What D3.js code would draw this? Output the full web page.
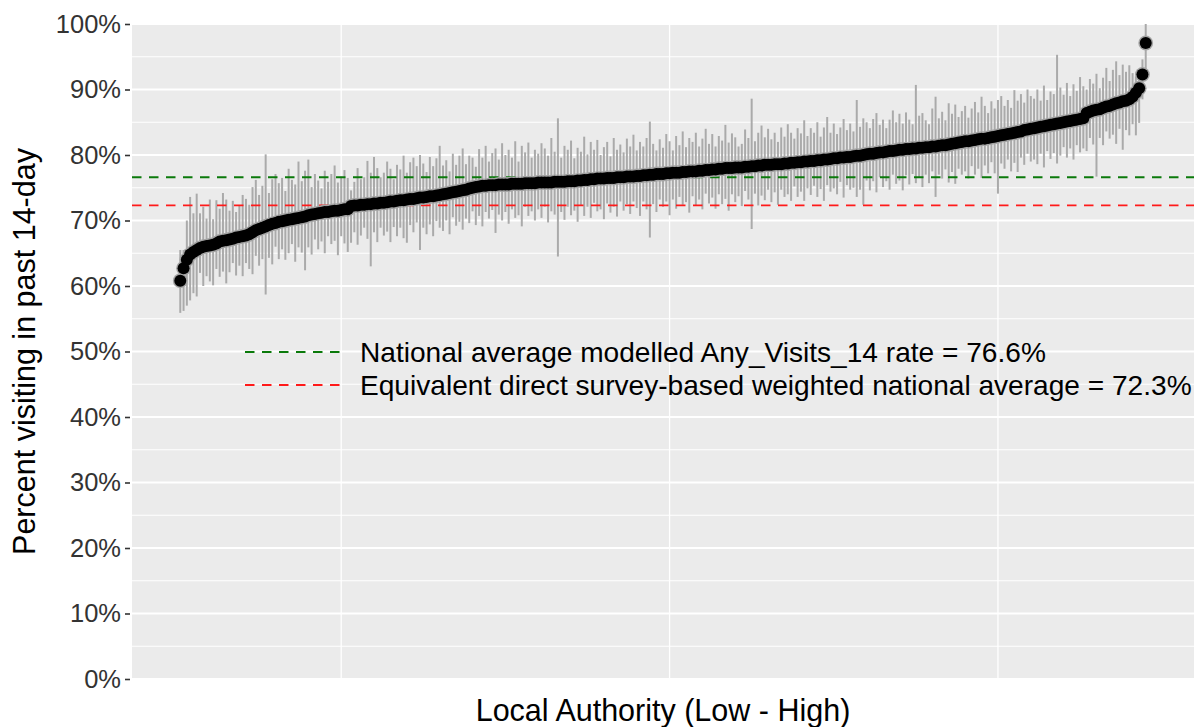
<!DOCTYPE html>
<html>
<head>
<meta charset="utf-8">
<script src="https://cdn.jsdelivr.net/npm/d3@7"></script>
<style>
  html, body { margin: 0; padding: 0; background: #ffffff; }
  svg { display: block; font-family: "Liberation Sans", Arial, sans-serif; }
</style>
</head>
<body>
<svg id="chart" width="1200" height="727"></svg>
<script>
// Local authorities ranked from lowest to highest modelled estimate
const firstRank = 51;

// Modelled percent visiting in the past 14 days, one value per local authority (sorted)
const estimate = [
  60.8, 62.7, 64.0, 64.8, 65.2, 65.5, 65.8, 66.0, 66.1, 66.2,
  66.3, 66.5, 66.8, 66.9, 67.0, 67.1, 67.2, 67.4, 67.5, 67.6,
  67.7, 67.9, 68.2, 68.5, 68.7, 68.9, 69.1, 69.3, 69.5, 69.6,
  69.8, 69.9, 70.0, 70.1, 70.2, 70.3, 70.4, 70.5, 70.6, 70.8,
  70.9, 71.0, 71.1, 71.2, 71.3, 71.3, 71.4, 71.5, 71.5, 71.6,
  71.7, 71.7, 72.2, 72.3, 72.3, 72.4, 72.4, 72.5, 72.5, 72.6,
  72.6, 72.7, 72.7, 72.8, 72.9, 72.9, 73.0, 73.1, 73.1, 73.2,
  73.3, 73.3, 73.4, 73.5, 73.5, 73.6, 73.7, 73.7, 73.8, 73.9,
  74.0, 74.1, 74.2, 74.3, 74.4, 74.5, 74.6, 74.7, 74.9, 75.0,
  75.1, 75.2, 75.3, 75.3, 75.4, 75.4, 75.4, 75.5, 75.5, 75.5,
  75.5, 75.6, 75.6, 75.6, 75.6, 75.7, 75.7, 75.7, 75.7, 75.8,
  75.8, 75.8, 75.8, 75.8, 75.9, 75.9, 75.9, 75.9, 76.0, 76.0,
  76.0, 76.1, 76.1, 76.2, 76.2, 76.3, 76.3, 76.4, 76.4, 76.4,
  76.5, 76.5, 76.5, 76.6, 76.6, 76.6, 76.7, 76.7, 76.7, 76.8,
  76.8, 76.9, 76.9, 77.0, 77.0, 77.1, 77.1, 77.1, 77.2, 77.2,
  77.3, 77.3, 77.3, 77.4, 77.4, 77.5, 77.5, 77.5, 77.6, 77.6,
  77.7, 77.7, 77.8, 77.8, 77.9, 77.9, 78.0, 78.0, 78.0, 78.1,
  78.1, 78.1, 78.2, 78.2, 78.3, 78.3, 78.4, 78.4, 78.5, 78.5,
  78.5, 78.6, 78.6, 78.6, 78.7, 78.7, 78.8, 78.8, 78.9, 78.9,
  79.0, 79.0, 79.1, 79.1, 79.2, 79.2, 79.3, 79.3, 79.4, 79.5,
  79.5, 79.6, 79.6, 79.7, 79.7, 79.8, 79.9, 79.9, 80.0, 80.1,
  80.2, 80.2, 80.3, 80.4, 80.4, 80.5, 80.6, 80.6, 80.7, 80.8,
  80.8, 80.9, 80.9, 81.0, 81.0, 81.1, 81.1, 81.2, 81.2, 81.3,
  81.3, 81.4, 81.5, 81.5, 81.6, 81.7, 81.8, 81.9, 82.0, 82.1,
  82.1, 82.2, 82.3, 82.4, 82.5, 82.5, 82.6, 82.7, 82.8, 82.9,
  83.0, 83.1, 83.2, 83.3, 83.4, 83.5, 83.6, 83.8, 83.9, 84.0,
  84.1, 84.2, 84.3, 84.4, 84.5, 84.6, 84.7, 84.8, 84.9, 85.0,
  85.1, 85.2, 85.3, 85.4, 85.5, 85.6, 86.4, 86.6, 86.8, 86.9,
  87.0, 87.2, 87.4, 87.5, 87.7, 87.9, 88.0, 88.2, 88.3, 88.5,
  88.9, 89.5, 90.2, 92.3, 97.1
];

// Distance from the estimate to the upper end of its interval (percentage points)
const marginUp = [
  4.7, 2.8, 6.0, 8.8, 5.9, 8.6, 5.3, 6.1, 4.2, 7.0,
  3.9, 6.6, 5.0, 7.3, 6.2, 4.4, 5.8, 3.9, 4.8, 6.3,
  5.6, 4.5, 6.9, 7.7, 5.2, 6.4, 11.0, 4.9, 6.8, 7.5,
  5.9, 6.6, 4.5, 7.8, 6.0, 5.2, 8.6, 5.5, 7.0, 8.5,
  4.2, 6.1, 5.0, 3.7, 6.3, 4.6, 5.7, 6.9, 4.3, 5.1,
  6.0, 4.8, 2.4, 3.6, 5.7, 3.9, 4.2, 6.6, 4.8, 7.1,
  5.4, 3.9, 4.6, 6.2, 5.0, 3.4, 5.5, 4.7, 6.8, 4.1,
  5.6, 6.3, 4.9, 6.5, 5.2, 3.8, 6.0, 4.6, 5.7, 7.5,
  4.4, 5.1, 3.3, 5.9, 4.1, 5.4, 6.4, 3.9, 5.0, 4.6,
  3.1, 5.7, 4.3, 6.1, 3.6, 4.9, 5.6, 3.8, 6.3, 4.5,
  5.3, 4.0, 6.5, 3.4, 5.8, 4.7, 6.2, 3.9, 5.1, 4.4,
  6.0, 5.2, 4.1, 6.8, 4.6, 9.7, 3.7, 5.5, 4.8, 6.2,
  3.5, 5.0, 4.4, 6.6, 3.9, 5.7, 4.5, 5.9, 3.6, 4.8,
  5.5, 3.3, 6.1, 4.2, 5.0, 3.8, 5.8, 4.6, 6.4, 3.9,
  5.2, 4.4, 5.7, 8.1, 4.7, 3.6, 5.3, 4.0, 6.0, 4.9,
  3.4, 5.6, 4.2, 6.2, 3.8, 5.1, 4.5, 5.9, 3.7, 4.9,
  6.3, 4.0, 5.4, 3.5, 5.0, 4.3, 6.6, 3.9, 5.3, 4.6,
  3.2, 3.6, 5.7, 4.4, 10.3, 3.8, 5.0, 6.1, 4.2, 5.5,
  3.9, 4.8, 3.4, 5.6, 4.1, 6.0, 4.6, 3.7, 5.2, 4.4,
  6.3, 3.9, 5.0, 4.3, 5.8, 3.6, 4.9, 6.5, 4.0, 5.3,
  3.7, 4.6, 5.9, 4.1, 5.1, 3.8, 8.5, 4.4, 5.6, 4.9,
  3.9, 5.3, 6.1, 4.2, 5.0, 3.6, 4.8, 6.2, 4.3, 5.5,
  4.0, 5.6, 4.5, 3.7, 9.7, 4.9, 5.3, 4.1, 3.5, 5.8,
  7.6, 4.2, 5.1, 3.8, 6.3, 4.6, 5.9, 3.9, 4.7, 5.4,
  3.6, 4.9, 5.8, 4.1, 6.4, 5.0, 3.8, 5.5, 4.3, 5.5,
  6.0, 4.4, 5.2, 3.9, 6.5, 4.8, 5.7, 4.2, 6.1, 5.0,
  4.5, 5.8, 4.0, 6.2, 3.9, 5.1, 4.6, 10.5, 5.4, 4.2,
  5.9, 3.8, 5.5, 4.4, 6.4, 4.9, 3.6, 5.0, 4.1, 5.5,
  3.2, 4.6, 5.9, 3.8, 5.3, 6.4, 4.2, 5.6, 4.4, 5.2,
  3.6, 2.5, 1.8, 2.3, 4.0
];

// Distance from the estimate to the lower end of its interval (percentage points)
const marginDown = [
  4.9, 6.5, 7.0, 7.0, 6.3, 7.1, 3.8, 6.0, 4.6, 5.5,
  6.2, 3.9, 5.4, 4.7, 6.6, 5.0, 3.7, 5.8, 4.4, 6.1,
  4.2, 5.3, 6.4, 3.9, 5.6, 4.8, 10.4, 5.0, 6.2, 3.6,
  5.7, 4.3, 6.0, 5.1, 3.8, 6.6, 4.5, 5.4, 8.2, 4.9,
  6.1, 3.9, 5.5, 4.4, 6.3, 3.7, 5.0, 4.6, 6.8, 4.0,
  5.2, 6.5, 5.6, 4.1, 6.0, 4.7, 3.5, 5.3, 9.5, 4.4,
  5.9, 3.8, 5.0, 4.5, 6.2, 3.9, 5.4, 4.2, 5.8, 6.6,
  4.0, 5.1, 3.7, 8.0, 4.6, 5.7, 4.3, 6.1, 3.9, 5.0,
  5.6, 4.1, 6.3, 3.8, 5.2, 4.7, 6.0, 4.4, 5.3, 3.6,
  5.8, 4.5, 6.2, 4.0, 5.1, 3.8, 7.3, 4.6, 5.5, 4.2,
  6.0, 3.9, 5.2, 4.8, 6.5, 3.6, 5.0, 4.3, 5.7, 4.1,
  5.4, 3.7, 6.1, 4.4, 5.0, 11.4, 4.6, 5.8, 3.9, 5.2,
  4.5, 6.3, 3.8, 5.5, 4.1, 5.9, 3.6, 5.0, 4.7, 6.2,
  3.9, 5.3, 4.4, 6.0, 3.7, 5.1, 4.2, 5.7, 3.8, 4.9,
  6.1, 4.0, 5.2, 9.6, 4.5, 5.8, 3.9, 5.0, 4.3, 6.4,
  4.1, 5.5, 3.7, 5.0, 4.6, 6.3, 3.8, 5.2, 4.4, 5.9,
  3.6, 5.1, 4.3, 6.0, 3.9, 5.4, 4.7, 6.5, 4.0, 5.3,
  4.4, 5.9, 3.7, 5.0, 9.6, 4.2, 6.1, 4.6, 5.4, 3.8,
  5.7, 4.3, 6.2, 3.9, 5.1, 4.7, 5.8, 3.6, 5.3, 4.5,
  6.0, 4.1, 5.2, 3.8, 5.6, 4.4, 6.3, 3.9, 5.0, 4.6,
  5.5, 3.7, 6.1, 4.3, 5.0, 4.8, 6.3, 5.2, 7.6, 4.0,
  5.6, 4.2, 6.0, 3.8, 5.3, 4.5, 5.9, 3.6, 5.1, 4.7,
  6.2, 4.0, 5.4, 3.9, 5.3, 4.6, 6.0, 4.2, 5.5, 3.8,
  7.7, 4.4, 5.1, 3.7, 5.8, 4.3, 6.2, 4.0, 5.0, 4.6,
  5.7, 3.9, 5.3, 4.5, 6.0, 4.1, 5.4, 3.8, 5.6, 8.8,
  4.3, 5.2, 3.9, 5.8, 4.6, 6.1, 4.0, 5.3, 3.7, 5.0,
  4.8, 5.6, 4.1, 6.3, 3.9, 5.2, 4.4, 6.1, 5.0, 3.8,
  5.5, 4.2, 6.0, 3.9, 5.1, 4.6, 5.8, 4.0, 5.2, 10.2,
  4.4, 5.7, 3.8, 5.0, 4.6, 6.2, 4.0, 7.4, 4.5, 5.5,
  4.2, 6.5, 5.3, 3.8, 4.1
];

// Reference lines
const refLabels = [
  "National average modelled Any_Visits_14 rate = 76.6%",
  "Equivalent direct survey-based weighted national average = 72.3%"
];
const refValues = [76.6, 72.3];
const refColors = ["#0b7a0b", "#ff1a1a"];

const yTicks = [0, 10, 20, 30, 40, 50, 60, 70, 80, 90, 100];
const yMinor = [5, 15, 25, 35, 45, 55, 65, 75, 85, 95];
const xBreaks = [100, 200, 300];

// Build records
const rows = estimate.map((v, i) => ({
  rank: firstRank + i,
  est: v,
  lo: v - marginDown[i],
  hi: v + marginUp[i]
}));

const svg = d3.select("#chart");
const panel = { left: 132, right: 1194, top: 24, bottom: 679 };

const rankExtent = d3.extent(rows, d => d.rank);
const pad = (rankExtent[1] - rankExtent[0]) * 0.05;
const x = d3.scaleLinear()
  .domain([rankExtent[0] - pad, rankExtent[1] + pad])
  .range([panel.left, panel.right]);
const y = d3.scaleLinear().domain([0, 100]).range([panel.bottom, panel.top]);

// Panel background
svg.append("rect")
  .attr("x", panel.left).attr("y", panel.top)
  .attr("width", panel.right - panel.left).attr("height", panel.bottom - panel.top)
  .attr("fill", "#ebebeb");

svg.append("defs").append("clipPath").attr("id", "panel-clip")
  .append("rect")
  .attr("x", panel.left).attr("y", panel.top)
  .attr("width", panel.right - panel.left).attr("height", panel.bottom - panel.top);

const grid = svg.append("g");
grid.selectAll("line.minor").data(yMinor).join("line")
  .attr("x1", panel.left).attr("x2", panel.right)
  .attr("y1", d => y(d)).attr("y2", d => y(d))
  .attr("stroke", "#ffffff").attr("stroke-width", 1);
grid.selectAll("line.major").data(yTicks).join("line")
  .attr("x1", panel.left).attr("x2", panel.right)
  .attr("y1", d => y(d)).attr("y2", d => y(d))
  .attr("stroke", "#ffffff").attr("stroke-width", 2);
grid.selectAll("line.vx").data(xBreaks).join("line")
  .attr("x1", d => x(d)).attr("x2", d => x(d))
  .attr("y1", panel.top).attr("y2", panel.bottom)
  .attr("stroke", "#ffffff").attr("stroke-width", 1.3);

const plot = svg.append("g").attr("clip-path", "url(#panel-clip)");

// Interval bars
plot.append("g").selectAll("line").data(rows).join("line")
  .attr("x1", d => x(d.rank)).attr("x2", d => x(d.rank))
  .attr("y1", d => y(d.lo)).attr("y2", d => y(d.hi))
  .attr("stroke", "#aaaaaa").attr("stroke-width", 2);

// Reference lines
plot.append("g").selectAll("line").data(refValues).join("line")
  .attr("x1", panel.left).attr("x2", panel.right)
  .attr("y1", d => y(d)).attr("y2", d => y(d))
  .attr("stroke", (d, i) => refColors[i])
  .attr("stroke-width", 1.8)
  .attr("stroke-dasharray", "9.5,7.5");

// Point estimates: grey halo underneath, solid black markers on top
plot.append("g").selectAll("circle").data(rows).join("circle")
  .attr("cx", d => x(d.rank)).attr("cy", d => y(d.est))
  .attr("r", 7.4)
  .attr("fill", "#a3a3a3");
plot.append("g").selectAll("circle").data(rows).join("circle")
  .attr("cx", d => x(d.rank)).attr("cy", d => y(d.est))
  .attr("r", 6)
  .attr("fill", "#000000");

// Y axis
const yAxis = svg.append("g")
  .attr("transform", `translate(${panel.left - 2},0)`)
  .call(d3.axisLeft(y).tickValues(yTicks).tickFormat(d => d + "%").tickSize(5).tickPadding(4));
yAxis.select(".domain").remove();
yAxis.selectAll(".tick line").attr("stroke", "#333333").attr("stroke-width", 1.6);
yAxis.selectAll(".tick text")
  .attr("fill", "#333333")
  .style("font-size", "25.5px")
  .style("font-family", "\"Liberation Sans\", Arial, sans-serif");

// Axis titles
svg.append("text")
  .attr("transform", `translate(35,${(panel.top + panel.bottom) / 2}) rotate(-90)`)
  .attr("text-anchor", "middle")
  .attr("fill", "#000")
  .style("font-size", "30.5px")
  .text("Percent visiting in past 14-day");

svg.append("text")
  .attr("x", (panel.left + panel.right) / 2)
  .attr("y", 721)
  .attr("text-anchor", "middle")
  .attr("fill", "#000")
  .style("font-size", "30.5px")
  .text("Local Authority (Low - High)");

// Key for the reference lines
const legendY = [352, 385];
const key = svg.append("g");
key.selectAll("line").data(refValues).join("line")
  .attr("x1", 245).attr("x2", 345)
  .attr("y1", (d, i) => legendY[i]).attr("y2", (d, i) => legendY[i])
  .attr("stroke", (d, i) => refColors[i])
  .attr("stroke-width", 1.8)
  .attr("stroke-dasharray", "9.5,7.5");
key.selectAll("text").data(refLabels).join("text")
  .attr("x", 360)
  .attr("y", (d, i) => legendY[i] + 10)
  .attr("fill", "#000")
  .style("font-size", "28.1px")
  .text(d => d);
</script>
</body>
</html>
